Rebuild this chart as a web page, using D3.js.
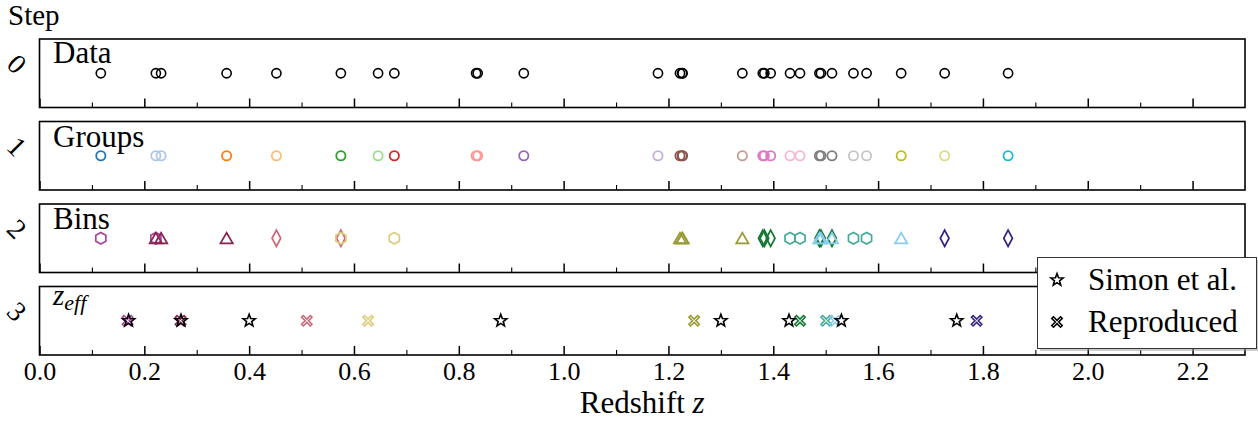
<!DOCTYPE html>
<html lang="en">
<head>
<meta charset="UTF-8">
<title>Binning steps</title>
<script src="https://d3js.org/d3.v7.min.js"></script>
<style>
    body { margin: 0; background: #fff; }
</style>
</head>
<body>
<div id="chart"></div>
<script>
// galaxy redshifts (step 0)
const dataZ = [0.117, 0.222, 0.232, 0.357, 0.452, 0.575, 0.646, 0.677, 0.833, 0.836, 0.924,
    1.180, 1.222, 1.226, 1.227, 1.341, 1.380, 1.383, 1.395, 1.432, 1.451, 1.488, 1.491,
    1.512, 1.553, 1.578, 1.644, 1.727, 1.848];
// group index of each galaxy (step 1)
const groupOf = [0, 1, 1, 2, 3, 4, 5, 6, 7, 7, 8, 9, 10, 10, 10, 11, 12, 12, 12, 13, 13,
    14, 14, 14, 15, 15, 16, 17, 18];
const groupColors = ["#1f77b4", "#aec7e8", "#ff7f0e", "#ffbb78", "#2ca02c", "#98df8a",
    "#d62728", "#ff9896", "#9467bd", "#c5b0d5", "#8c564b", "#c49c94", "#e377c2", "#f7b6d2",
    "#7f7f7f", "#c7c7c7", "#bcbd22", "#dbdb8d", "#17becf"];
// members of each bin (step 2)
const binMembers = [
    [0.117, 0.222],
    [0.222, 0.232, 0.357],
    [0.452, 0.575],
    [0.575, 0.677],
    [1.222, 1.226, 1.227, 1.341],
    [1.380, 1.383, 1.395, 1.488, 1.491, 1.512],
    [1.432, 1.451, 1.553, 1.578],
    [1.488, 1.491, 1.512, 1.644],
    [1.727, 1.848]
];
const binColors = ["#AA4499", "#882255", "#CC6677", "#DDCC77", "#999933", "#117733",
    "#44AA99", "#88CCEE", "#332288"];
const binShapes = ["hexagon", "triangle", "diamond"];
// effective redshifts (step 3)
const simonZ = [0.17, 0.27, 0.40, 0.88, 1.30, 1.43, 1.53, 1.75];
const reproZ = [0.168, 0.269, 0.510, 0.627, 1.249, 1.451, 1.501, 1.518, 1.788];

const stepLabels = ["0", "1", "2", "3"];
const majorTicks = [0, 0.2, 0.4, 0.6, 0.8, 1.0, 1.2, 1.4, 1.6, 1.8, 2.0, 2.2];
const minorTicks = [0.1, 0.3, 0.5, 0.7, 0.9, 1.1, 1.3, 1.5, 1.7, 1.9, 2.1];

const FONT = "'Liberation Serif', 'DejaVu Serif', serif";

const W = 1258, H = 424;
const left = 39.5, right = 1245;
const panelTops = [39, 121.5, 204, 286.5];
const panelH = 68.5;

const svg = d3.select('#chart').append('svg')
    .attr('width', W).attr('height', H);

const x = d3.scaleLinear().domain([0, 2.3]).range([left, right]);

// marker paths centred on 0,0
function shapePath(kind, r) {
    if (kind === 'hexagon') {
        const pts = d3.range(6).map(k => {
            const a = Math.PI / 2 + k * Math.PI / 3;
            return [r * Math.cos(a), r * Math.sin(a)];
        });
        return 'M' + pts.join('L') + 'Z';
    }
    if (kind === 'triangle') {
        return `M0,${-r}L${r * 0.95},${r * 0.62}L${-r * 0.95},${r * 0.62}Z`;
    }
    if (kind === 'diamond') {
        return `M0,${-r * 1.4}L${r * 0.75},0L0,${r * 1.4}L${-r * 0.75},0Z`;
    }
    if (kind === 'star') {
        const pts = d3.range(10).map(k => {
            const a = -Math.PI / 2 + k * Math.PI / 5;
            const rr = k % 2 ? r * 0.42 : r;
            return [rr * Math.cos(a), rr * Math.sin(a)];
        });
        return 'M' + pts.join('L') + 'Z';
    }
    if (kind === 'x') {
        const a = r * 0.32, b = r;
        const p = [[0, -a], [b - a, -b], [b, -b + a], [a, 0], [b, b - a], [b - a, b],
            [0, a], [-b + a, b], [-b, b - a], [-a, 0], [-b, -b + a], [-b + a, -b]];
        return 'M' + p.join('L') + 'Z';
    }
}

panelTops.forEach((top, i) => {
    const g = svg.append('g');
    g.append('rect')
        .attr('x', left).attr('y', top)
        .attr('width', right - left).attr('height', panelH)
        .attr('fill', 'none').attr('stroke', '#000').attr('stroke-width', 1.6);

    const major = d3.axisBottom(x).tickValues(majorTicks).tickSize(-9)
        .tickFormat(i === 3 ? d3.format('.1f') : '');
    const ax = g.append('g').attr('transform', `translate(0,${top + panelH})`).call(major);
    ax.attr('font-family', null).style('font-family', FONT);
    ax.select('.domain').remove();
    ax.selectAll('line').attr('stroke', '#000').attr('stroke-width', 1.5);
    ax.selectAll('text').attr('font-size', 26).attr('y', 4).attr('dy', '0.8em')
        .attr('fill', '#000');

    const minor = d3.axisBottom(x).tickValues(minorTicks).tickSize(-5).tickFormat('');
    const mx = g.append('g').attr('transform', `translate(0,${top + panelH})`).call(minor);
    mx.select('.domain').remove();
    mx.selectAll('line').attr('stroke', '#000').attr('stroke-width', 1.1);

    g.append('text')
        .attr('transform', `translate(17,${top + 25}) rotate(45)`)
        .style('font-family', FONT)
        .attr('text-anchor', 'middle').attr('dominant-baseline', 'central')
        .attr('font-size', 28).text(stepLabels[i]);
});

const cy = i => panelTops[i] + panelH / 2;

// step 0: data
svg.append('g').selectAll('circle').data(dataZ).join('circle')
    .attr('cx', d => x(d)).attr('cy', cy(0)).attr('r', 4.6)
    .attr('fill', 'none').attr('stroke', '#000').attr('stroke-width', 1.6);

// step 1: groups
svg.append('g').selectAll('circle').data(dataZ).join('circle')
    .attr('cx', d => x(d)).attr('cy', cy(1)).attr('r', 4.6)
    .attr('fill', 'none').attr('stroke', (d, j) => groupColors[groupOf[j]])
    .attr('stroke-width', 1.8);

// step 2: bins
binMembers.forEach((members, b) => {
    const kind = binShapes[b % 3];
    svg.append('g').selectAll('path').data(members).join('path')
        .attr('d', shapePath(kind, kind === 'triangle' ? 6.5 : 5.8))
        .attr('transform', d => `translate(${x(d)},${cy(2) + (kind === 'triangle' ? 1 : 0)})`)
        .attr('fill', 'none').attr('stroke', binColors[b]).attr('stroke-width', 1.7);
});

// step 3: effective redshifts
svg.append('g').selectAll('path').data(reproZ).join('path')
    .attr('d', shapePath('x', 5.2))
    .attr('transform', d => `translate(${x(d)},${cy(3)})`)
    .attr('fill', 'none').attr('stroke', (d, j) => binColors[j]).attr('stroke-width', 1.6);
svg.append('g').selectAll('path').data(simonZ).join('path')
    .attr('d', shapePath('star', 6.4))
    .attr('transform', d => `translate(${x(d)},${cy(3)})`)
    .attr('fill', 'none').attr('stroke', '#000').attr('stroke-width', 1.6);

// panel titles
const txt = (xx, yy, size, s) => svg.append('text').attr('x', xx).attr('y', yy)
    .style('font-family', FONT).attr('font-size', size).text(s);
txt(8, 25, 29, 'Step');
txt(53, 63, 31, 'Data');
txt(53, 147, 31, 'Groups');
txt(53, 229, 31, 'Bins');
const zt = txt(53, 305, 29, null).attr('font-style', 'italic');
zt.append('tspan').text('z');
zt.append('tspan').attr('font-size', 22).attr('dy', 5).text('eff');

// x label
const xl = txt((left + right) / 2, 413, 31, null).attr('text-anchor', 'middle');
xl.append('tspan').text('Redshift ');
xl.append('tspan').attr('font-style', 'italic').text('z');

// legend
const lg = svg.append('g');
lg.append('rect').attr('x', 1040).attr('y', 260).attr('width', 219).attr('height', 91)
    .attr('fill', '#999').attr('opacity', 0.5);
lg.append('rect').attr('x', 1037.5).attr('y', 257.5).attr('width', 219).attr('height', 91)
    .attr('fill', '#fff').attr('stroke', '#333').attr('stroke-width', 1);
const legendItems = [
    { label: 'Simon et al.', kind: 'star', y: 280 },
    { label: 'Reproduced', kind: 'x', y: 322 }
];
legendItems.forEach(it => {
    lg.append('path').attr('d', shapePath(it.kind, it.kind === 'star' ? 6.4 : 5.2))
        .attr('transform', `translate(1057,${it.y})`)
        .attr('fill', 'none').attr('stroke', '#000').attr('stroke-width', 1.6);
    lg.append('text').attr('x', 1088).attr('y', it.y + 10)
        .style('font-family', FONT).attr('font-size', 31).text(it.label);
});
</script>
</body>
</html>
